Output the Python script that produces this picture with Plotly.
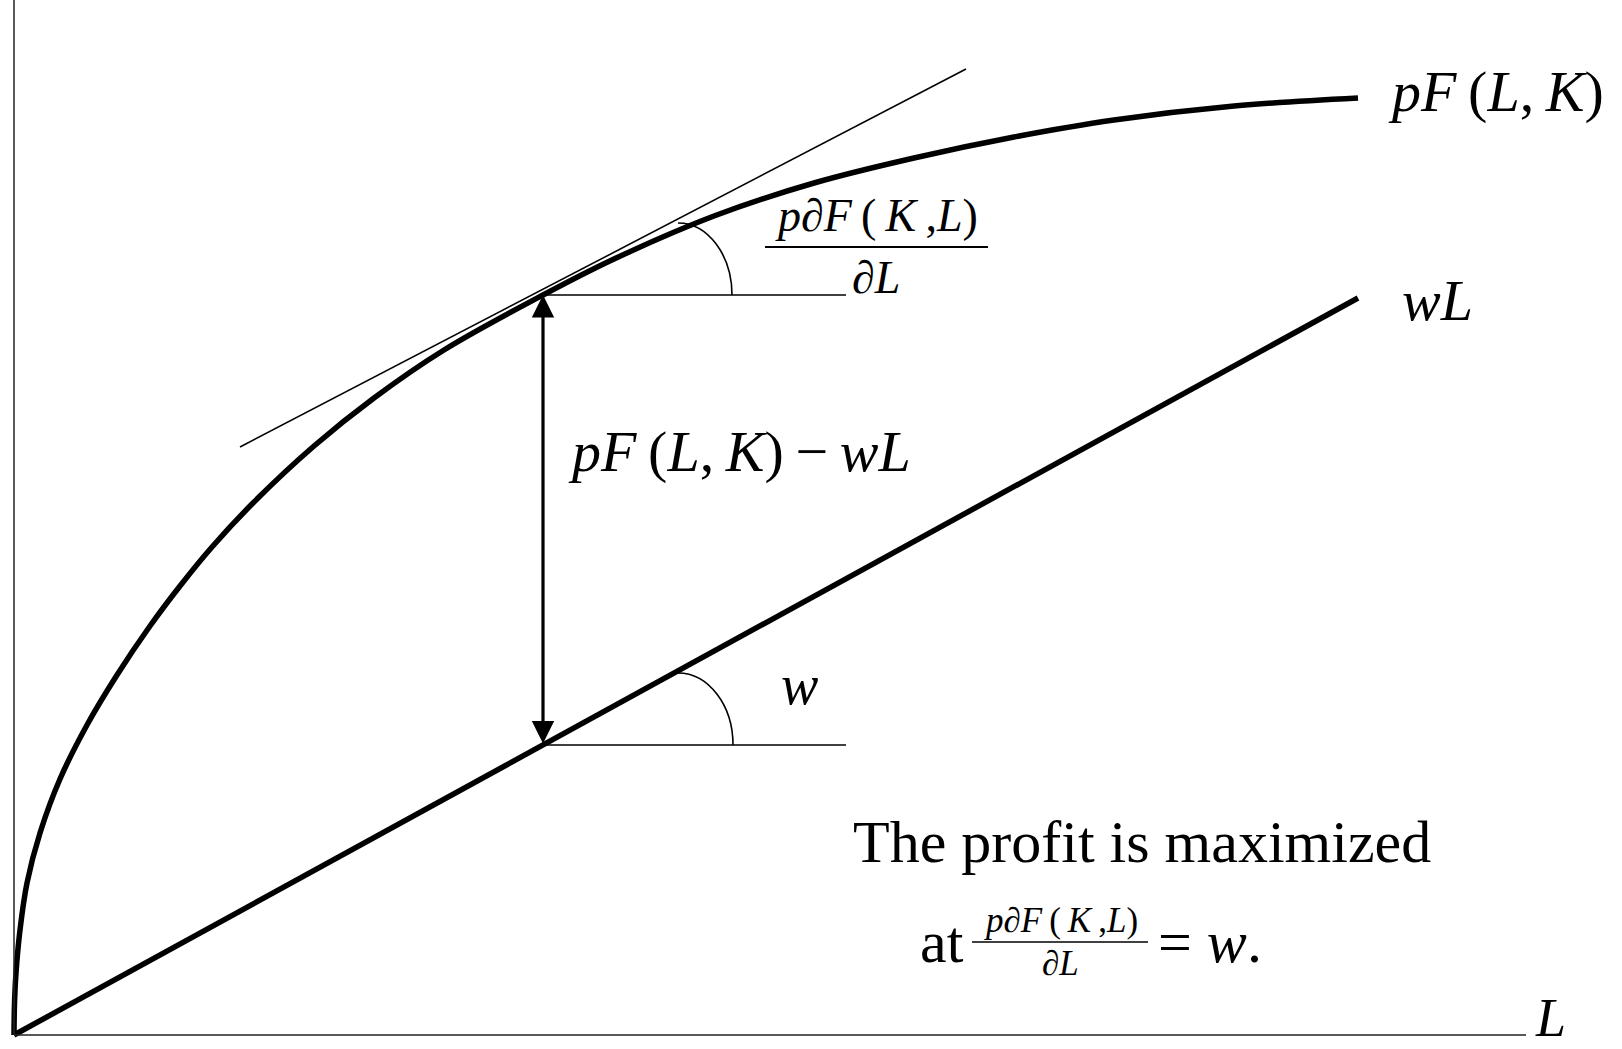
import plotly.graph_objects as go

# ---- data (units: L on x, output value on y) ----
L_curve = [0, 0.005, 0.02, 0.06, 0.13, 0.26, 0.46, 0.73, 1.03, 1.36, 1.66, 1.98, 2.4,
           3.0, 3.6, 4.3, 5.29, 6.0, 7.0, 8.0, 9.0, 10.0, 11.0, 12.2, 13.44]
pF_curve = [0, 0.31, 0.62, 1.05, 1.52, 2.02, 2.56, 3.10, 3.60, 4.09, 4.49, 4.88, 5.33,
            5.89, 6.37, 6.85, 7.40, 7.76, 8.19, 8.52, 8.77, 8.98, 9.15, 9.29, 9.37]

L_cost = [0, 13.44]
wL_cost = [0, 7.37]

L_tangent = [2.26, 9.52]
y_tangent = [5.88, 9.66]

L_star = 5.29          # optimum labour
pF_star = 7.40         # revenue at optimum
wL_star = 2.90         # cost at optimum
L_ref_end = 8.32       # end of horizontal reference lines

L_axis_end = 15.12
y_axis_end = 10.35

FONT = "Liberation Serif, Times New Roman, serif"
BLACK = "#000000"

fig = go.Figure()

fig.add_trace(go.Scatter(x=L_curve, y=pF_curve, mode="lines",
                         line=dict(color=BLACK, width=5.5, shape="spline", smoothing=1.0),
                         hoverinfo="skip", showlegend=False))
fig.add_trace(go.Scatter(x=L_cost, y=wL_cost, mode="lines",
                         line=dict(color=BLACK, width=5.5),
                         hoverinfo="skip", showlegend=False))
fig.add_trace(go.Scatter(x=L_tangent, y=y_tangent, mode="lines",
                         line=dict(color=BLACK, width=1.6),
                         hoverinfo="skip", showlegend=False))

shapes = []
# axes
shapes.append(dict(type="line", x0=0, y0=0, x1=0, y1=y_axis_end, xref="x", yref="y",
                   line=dict(color="#222", width=1.5)))
shapes.append(dict(type="line", x0=0, y0=0, x1=L_axis_end, y1=0, xref="x", yref="y",
                   line=dict(color="#222", width=1.5)))
# horizontal reference lines
for yv in (pF_star, wL_star):
    shapes.append(dict(type="line", x0=L_star, y0=yv, x1=L_ref_end, y1=yv, xref="x", yref="y",
                       line=dict(color=BLACK, width=1.6)))

# angle arcs (quarter ellipses drawn as cubic Beziers)
def arc_path(cx, cy, rx, ry):
    k = 0.5523
    return (f"M{cx},{cy+ry} C{cx+k*rx},{cy+ry} {cx+rx},{cy+k*ry} {cx+rx},{cy}")

shapes.append(dict(type="path", path=arc_path(6.64, pF_star, 0.54, 0.72), xref="x", yref="y",
                   line=dict(color=BLACK, width=1.6)))
shapes.append(dict(type="path", path=arc_path(6.64, wL_star, 0.55, 0.72), xref="x", yref="y",
                   line=dict(color=BLACK, width=1.6)))

# fraction bars
shapes.append(dict(type="line", x0=7.51, y0=7.88, x1=9.74, y1=7.88, xref="x", yref="y",
                   line=dict(color=BLACK, width=2)))
shapes.append(dict(type="line", x0=9.58, y0=0.93, x1=11.34, y1=0.93, xref="x", yref="y",
                   line=dict(color=BLACK, width=1.6)))

annotations = []
# double-headed arrow
annotations.append(dict(x=L_star, y=pF_star, ax=L_star, ay=wL_star, xref="x", yref="y",
                        axref="x", ayref="y", text="", showarrow=True,
                        arrowhead=2, startarrowhead=2, arrowside="end+start",
                        arrowwidth=3.2, arrowsize=1.4, startarrowsize=1.4, arrowcolor=BLACK,
                        standoff=0, startstandoff=0))

def txt(x, y, text, size, xanchor="center", yanchor="middle", pad=1):
    annotations.append(dict(x=x, y=y, xref="x", yref="y", text=text, showarrow=False,
                            xanchor=xanchor, yanchor=yanchor, borderpad=pad,
                            font=dict(family=FONT, size=size, color=BLACK)))

T = "\u2009"
txt(13.72, 9.44, f"<i>pF</i>{T}(<i>L</i>,{T}<i>K</i>)", 58, xanchor="left")
txt(13.86, 7.35, "<i>wL</i>", 58, xanchor="left")
txt(7.25, 5.84, f"<i>pF</i>{T}(<i>L</i>,{T}<i>K</i>){T}−{T}<i>wL</i>", 58)
txt(7.85, 3.50, "<i>w</i>", 56)
txt(15.36, -0.14, "<i>L</i>", 54, yanchor="bottom", pad=0)
# upper fraction
txt(8.62, 8.20, f"<i>p</i>∂<i>F</i>{T}({T}<i>K</i>{T},<i>L</i>)", 46)
txt(8.62, 7.58, "∂<i>L</i>", 46)
# bottom statement
txt(11.28, 1.93, "The profit is maximized", 60)
txt(9.28, 0.93, "at", 60)
txt(10.46, 1.15, f"<i>p</i>∂<i>F</i>{T}({T}<i>K</i>{T},<i>L</i>)", 35)
txt(10.46, 0.72, "∂<i>L</i>", 35)
txt(11.42, 0.93, "= <i>w</i>.", 60, xanchor="left")

fig.update_layout(
    width=1622, height=1049, autosize=False,
    margin=dict(l=0, r=0, t=0, b=0),
    paper_bgcolor="white", plot_bgcolor="white",
    xaxis=dict(range=[-0.14, 16.08], visible=False, fixedrange=True),
    yaxis=dict(range=[-0.14, 10.35], visible=False, fixedrange=True),
    shapes=shapes, annotations=annotations, showlegend=False,
)

fig.write_html("out.html", config={"displayModeBar": False},
               post_script="document.body.style.margin='0';document.body.style.overflow='hidden';")
